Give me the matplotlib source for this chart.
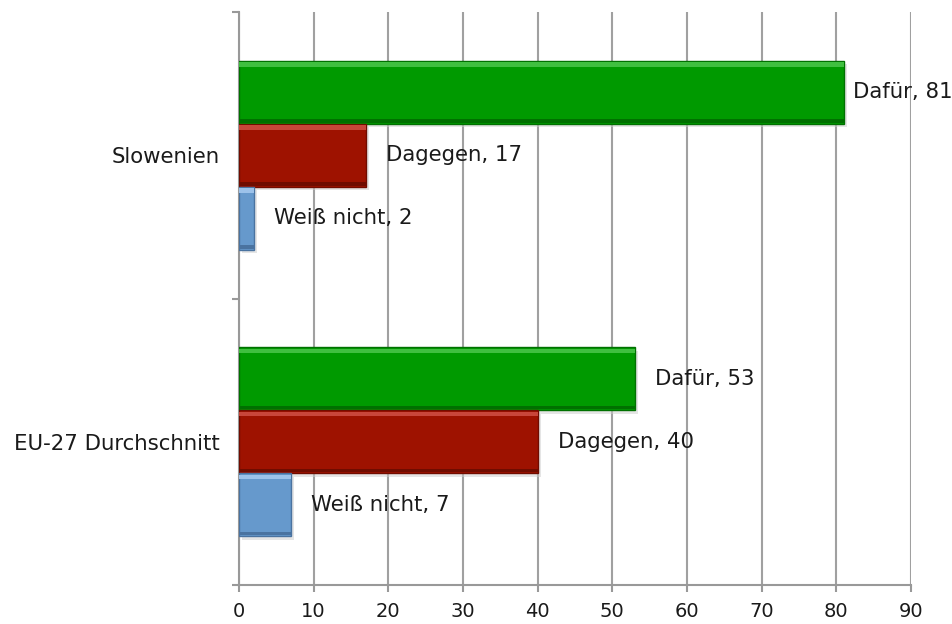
import matplotlib
matplotlib.use("Agg")
import matplotlib.pyplot as plt
import numpy as np

categories = ["EU-27 Durchschnitt", "Slowenien"]
series_names = ["Dafür", "Dagegen", "Weiß nicht"]
dafuer = [53, 81]
dagegen = [40, 17]
weiss_nicht = [7, 2]
x_ticks = [0, 10, 20, 30, 40, 50, 60, 70, 80, 90]

colors = ["#009a00", "#9e1200", "#6699cc"]
light_colors = ["#3fbf3f", "#c8463a", "#9cc2ea"]
dark_colors = ["#007000", "#700c00", "#4a73a0"]

plt.rcParams['font.family'] = ['DejaVu Sans']
fig = plt.figure(figsize=(9.52, 6.24), dpi=100)
ax = fig.add_axes([0.251, 0.0625, 0.706, 0.918])

values = [dafuer, dagegen, weiss_nicht]
bar_h = 0.22
offsets = [bar_h, 0.0, -bar_h]
ypos = np.arange(len(categories))

for s, (name, vals) in enumerate(zip(series_names, values)):
    y = ypos + offsets[s]
    # shadow
    ax.barh(y - 0.012, vals, height=bar_h, left=0.4, color="#cccccc", alpha=0.5, zorder=2)
    ax.barh(y, vals, height=bar_h, color=colors[s], edgecolor=dark_colors[s],
            linewidth=1.0, zorder=3)
    # bevel highlight on top, darker at bottom
    ax.barh(y + bar_h * 0.445, vals, height=bar_h * 0.07, color=light_colors[s],
            linewidth=0, zorder=4)
    ax.barh(y - bar_h * 0.455, vals, height=bar_h * 0.06, color=dark_colors[s],
            linewidth=0, zorder=4)
    for yi, v in zip(y, vals):
        off = 9 if v > 75 else 20
        ax.annotate(f"{name}, {v}", xy=(v, yi), xytext=(off, 0), textcoords="offset pixels",
                    va="center", ha="left", fontsize=15.3, color="#1a1a1a", zorder=5,
                    annotation_clip=False)

ax.set_xlim(0, 90)
ax.set_ylim(-0.5, 1.5)
ax.set_xticks(x_ticks)
ax.set_xticklabels([str(t) for t in x_ticks], fontsize=14, color="#1a1a1a")
ax.set_yticks(ypos)
ax.set_yticklabels(categories, fontsize=15.3, color="#1a1a1a")
ax.set_yticks([-0.5, 0.5, 1.5], minor=True)
ax.tick_params(axis='y', which='major', length=0, pad=14)
ax.tick_params(axis='y', which='minor', length=5, width=1.5, color="#999999")
ax.tick_params(axis='x', which='major', length=5, width=1.5, color="#999999", pad=7)

ax.xaxis.grid(True, color="#a0a0a0", linewidth=1.5, zorder=0)
ax.set_axisbelow(True)
for side in ["top", "right"]:
    ax.spines[side].set_visible(False)
for side in ["left", "bottom"]:
    ax.spines[side].set_color("#999999")
    ax.spines[side].set_linewidth(1.5)

fig.savefig("out.png", dpi=100)
